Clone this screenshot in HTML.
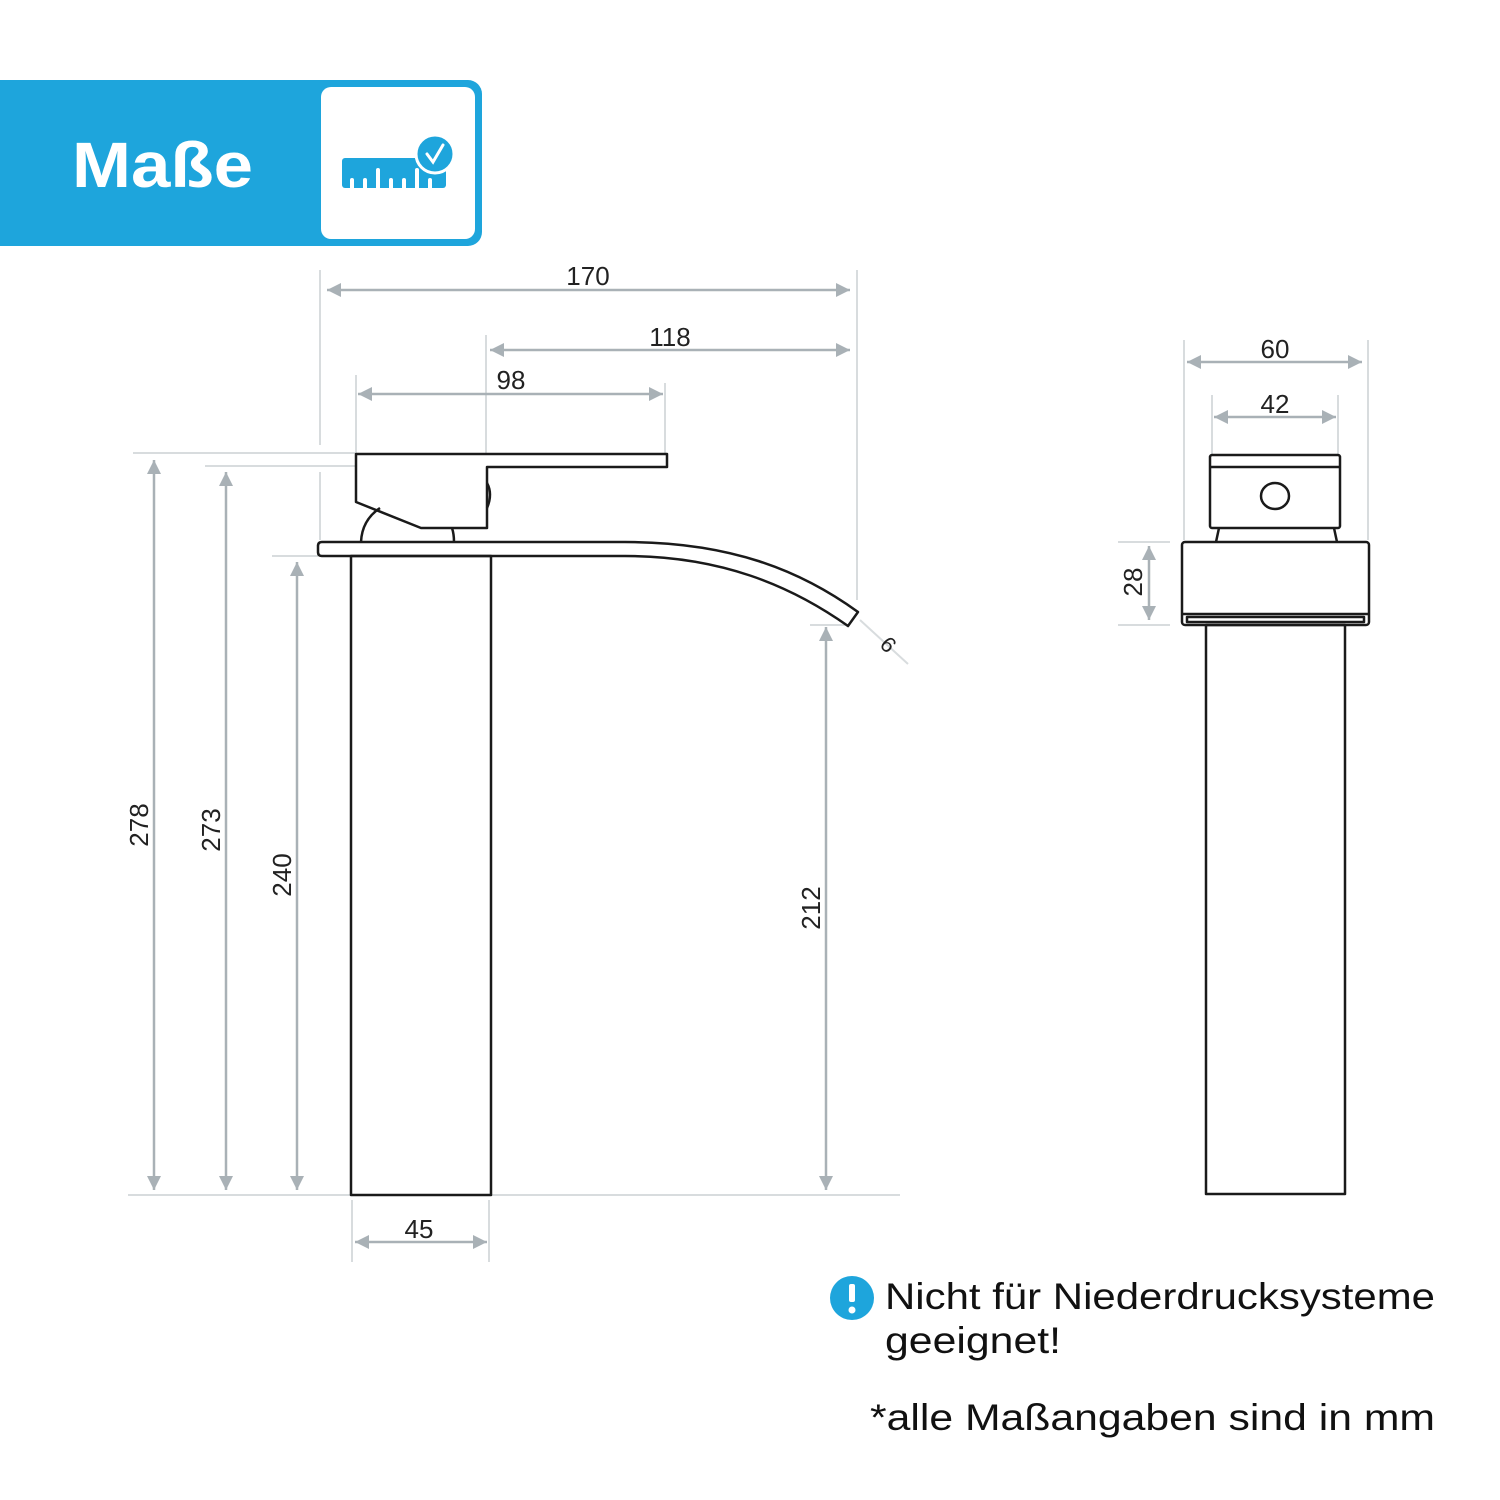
<!DOCTYPE html>
<html><head><meta charset="utf-8"><style>
html,body{margin:0;padding:0;background:#fff;}
svg{display:block;}
text{font-family:"Liberation Sans",sans-serif;}
</style></head><body>
<svg width="1500" height="1500" viewBox="0 0 1500 1500" xmlns="http://www.w3.org/2000/svg">
<defs>
<marker id="a" viewBox="0 0 10 10" refX="10" refY="5" markerWidth="16" markerHeight="14" markerUnits="userSpaceOnUse" orient="auto-start-reverse">
<path d="M0,0 L10,5 L0,10 z" fill="#a9b1b6"/></marker>
</defs>
<!-- banner -->
<rect x="0" y="80" width="460" height="166" fill="#1ea5dc"/>
<rect x="420" y="80" width="62" height="166" rx="14" fill="#1ea5dc"/>
<rect x="321" y="87" width="154" height="152" rx="10" fill="#fff"/>
<text x="72" y="187" font-size="64" font-weight="bold" fill="#fff" textLength="181" lengthAdjust="spacingAndGlyphs">Maße</text>
<rect x="342" y="158" width="104" height="30" rx="3" fill="#1ea5dc"/>
<g stroke="#fff" stroke-width="4" stroke-linecap="round">
<line x1="352" y1="188" x2="352" y2="180"/><line x1="365" y1="188" x2="365" y2="180"/><line x1="378" y1="188" x2="378" y2="170"/><line x1="391" y1="188" x2="391" y2="180"/><line x1="404" y1="188" x2="404" y2="180"/><line x1="417" y1="188" x2="417" y2="170"/><line x1="430" y1="188" x2="430" y2="180"/>
</g>
<circle cx="435" cy="154" r="19" fill="#1ea5dc" stroke="#fff" stroke-width="3"/>
<path d="M427,154 L433,162 L443,145" stroke="#fff" stroke-width="3" fill="none" stroke-linecap="round"/>

<!-- extension lines -->
<g stroke="#d8dcde" stroke-width="2" fill="none">
<line x1="320" y1="270" x2="320" y2="445"/><line x1="320" y1="472" x2="320" y2="540"/>
<line x1="857" y1="270" x2="857" y2="600"/>
<line x1="486" y1="335" x2="486" y2="455"/>
<line x1="356" y1="375" x2="356" y2="455"/>
<line x1="665" y1="383" x2="665" y2="455"/>
<line x1="133" y1="453" x2="355" y2="453"/>
<line x1="205" y1="466" x2="355" y2="466"/>
<line x1="272" y1="556" x2="318" y2="556"/>
<line x1="128" y1="1195" x2="900" y2="1195"/>
<line x1="352" y1="1200" x2="352" y2="1262"/><line x1="489" y1="1200" x2="489" y2="1262"/>
<line x1="810" y1="625" x2="845" y2="625"/>
<line x1="860" y1="620" x2="908" y2="664"/>
<line x1="1184" y1="340" x2="1184" y2="540"/><line x1="1368" y1="340" x2="1368" y2="540"/>
<line x1="1212" y1="395" x2="1212" y2="455"/><line x1="1338" y1="395" x2="1338" y2="455"/>
<line x1="1118" y1="542" x2="1170" y2="542"/><line x1="1118" y1="625" x2="1170" y2="625"/>
</g>
<!-- dimension lines -->
<g stroke="#a9b1b6" stroke-width="2.5" fill="none" marker-start="url(#a)" marker-end="url(#a)">
<line x1="327" y1="290" x2="850" y2="290"/>
<line x1="490" y1="350" x2="850" y2="350"/>
<line x1="358" y1="394" x2="663" y2="394"/>
<line x1="154" y1="460" x2="154" y2="1190"/>
<line x1="226" y1="472" x2="226" y2="1190"/>
<line x1="297" y1="562" x2="297" y2="1190"/>
<line x1="826" y1="627" x2="826" y2="1190"/>
<line x1="355" y1="1242" x2="487" y2="1242"/>
<line x1="1187" y1="362" x2="1362" y2="362"/>
<line x1="1214" y1="417" x2="1336" y2="417"/>
<line x1="1149" y1="546" x2="1149" y2="620"/>
</g>
<!-- labels -->
<g font-size="26" fill="#222" text-anchor="middle">
<text x="588" y="285">170</text>
<text x="670" y="346">118</text>
<text x="511" y="389">98</text>
<text x="419" y="1238">45</text>
<text x="1275" y="358">60</text>
<text x="1275" y="413">42</text>
<text transform="translate(148,825) rotate(-90)">278</text>
<text transform="translate(220,830) rotate(-90)">273</text>
<text transform="translate(291,875) rotate(-90)">240</text>
<text transform="translate(820,908) rotate(-90)">212</text>
<text transform="translate(1142,582) rotate(-90)">28</text>
<text font-size="22" transform="translate(883,650) rotate(45)">6</text>
</g>

<!-- faucet side view -->
<g stroke="#1a1a1a" stroke-width="2.5" fill="none" stroke-linejoin="round">
<rect x="351" y="556" width="140" height="639"/>
<path d="M322,542 L625,542 C730,542 800,570 858,612 L848,626 C790,585 720,556 625,556 L322,556 Q318,556 318,552 L318,546 Q318,542 322,542 Z"/>
<path d="M356,454 L667,454 L667,467 L487,467 L487,528 L421,528 L356,502 Z"/>
<path d="M361,542 Q362,520 380,508"/>
<path d="M452,528 Q454,534 454,542"/>
<path d="M487,483 Q493,494 487,508"/>
<!-- right view -->
<rect x="1206" y="625" width="139" height="569"/>
<rect x="1182" y="542" width="187" height="83" rx="3"/>
<line x1="1183" y1="614" x2="1368" y2="614"/>
<rect x="1187" y="617" width="177" height="5"/>
<path d="M1219,528 L1216,542 M1334,528 L1337,542"/>
<rect x="1210" y="455" width="130" height="73" rx="2"/>
<line x1="1210" y1="467" x2="1340" y2="467"/>
<ellipse cx="1275" cy="496" rx="14" ry="13"/>
</g>

<!-- notes -->
<circle cx="852" cy="1298" r="22" fill="#1ea5dc"/>
<rect x="849" y="1284" width="6" height="18" rx="2" fill="#fff"/>
<circle cx="852" cy="1310" r="3.5" fill="#fff"/>
<g font-size="37" fill="#111">
<text x="885" y="1309" textLength="550" lengthAdjust="spacingAndGlyphs">Nicht für Niederdrucksysteme</text>
<text x="885" y="1353" textLength="176" lengthAdjust="spacingAndGlyphs">geeignet!</text>
<text x="870" y="1430" textLength="565" lengthAdjust="spacingAndGlyphs">*alle Maßangaben sind in mm</text>
</g>
</svg>
</body></html>
